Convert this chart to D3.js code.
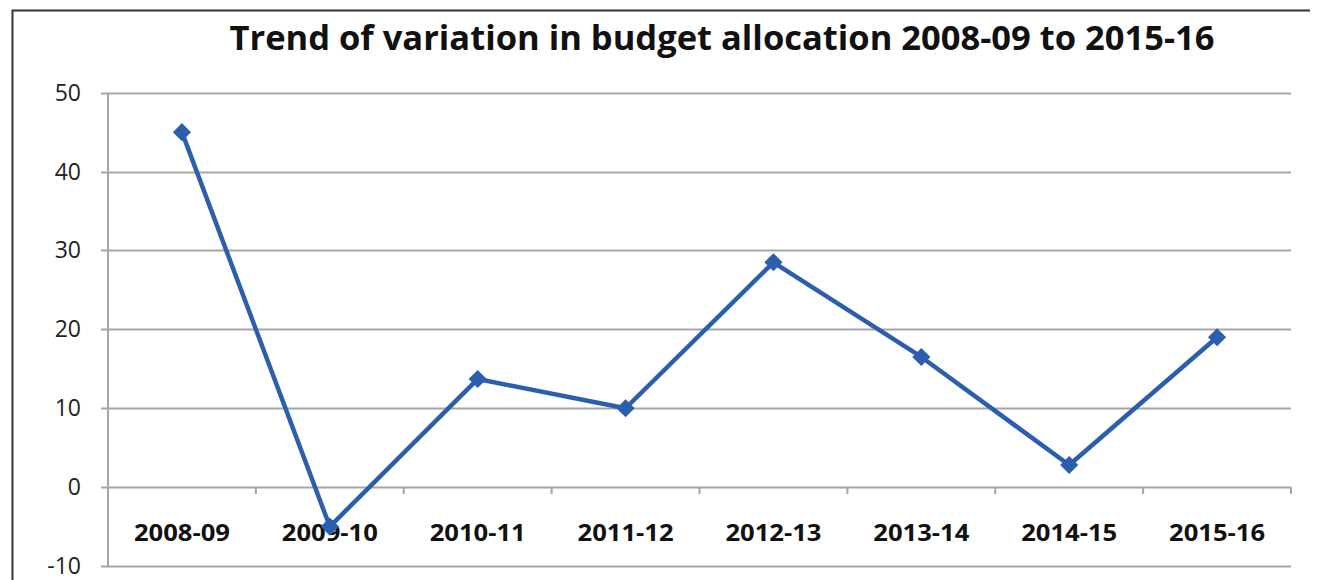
<!DOCTYPE html>
<meta charset="utf-8">
<head>
  <style>
    body { margin:0; background:#fff; }
    text { font-family: "Open Sans", "DejaVu Sans", sans-serif; }
  </style>
  <script src="https://d3js.org/d3.v7.min.js"></script>
</head>
<body>
<svg id="chart" width="1318" height="580"></svg>
<script>
  var years = ["2008-09", "2009-10", "2010-11", "2011-12", "2012-13", "2013-14", "2014-15", "2015-16"]
  var variation = [45, -5, 13.7, 10, 28.5, 16.5, 2.8, 19]
  var yTicks = [50, 40, 30, 20, 10, 0, -10]
  var title = "Trend of variation in budget allocation 2008-09 to 2015-16"

  var svg = d3.select('#chart')

  // frame: top and left edges only
  svg.append('path')
    .attr('d', 'M12.5,580 V10.5 H1310')
    .attr('fill', 'none')
    .attr('stroke', '#333')
    .attr('stroke-width', 2)

  var x = d3.scaleBand().domain(years).range([108, 1291])
  var y = d3.scaleLinear().domain([-10, 50]).range([566, 92.7])

  // gridlines
  svg.append('g').selectAll('line')
    .data(yTicks)
    .enter().append('line')
      .attr('x1', 101).attr('x2', 1291)
      .attr('y1', function (d) { return Math.round(y(d)) + 0.5 })
      .attr('y2', function (d) { return Math.round(y(d)) + 0.5 })
      .attr('stroke', '#a6a6a6')
      .attr('stroke-width', 2)

  // y axis line
  svg.append('line')
    .attr('x1', 108).attr('x2', 108)
    .attr('y1', y(50)).attr('y2', y(-10))
    .attr('stroke', '#a6a6a6').attr('stroke-width', 2)

  // y labels
  svg.append('g').selectAll('text')
    .data(yTicks)
    .enter().append('text')
      .attr('x', 81)
      .attr('y', function (d) { return y(d) + 8 })
      .attr('text-anchor', 'end')
      .attr('font-size', 23)
      .attr('fill', '#222')
      .text(function (d) { return d })

  // category ticks on the zero line
  var bounds = years.map(function (d) { return x(d) }).concat([x.range()[1]])
  svg.append('g').selectAll('line')
    .data(bounds.slice(1))
    .enter().append('line')
      .attr('x1', function (d) { return d }).attr('x2', function (d) { return d })
      .attr('y1', y(0)).attr('y2', y(0) + 7)
      .attr('stroke', '#a6a6a6').attr('stroke-width', 2)

  // category labels
  svg.append('g').selectAll('text')
    .data(years)
    .enter().append('text')
      .attr('x', function (d) { return x(d) + x.bandwidth() / 2 })
      .attr('y', 541)
      .attr('text-anchor', 'middle')
      .attr('font-size', 24)
      .attr('font-weight', 'bold')
      .attr('fill', '#111')
      .attr('textLength', 96)
      .attr('lengthAdjust', 'spacingAndGlyphs')
      .text(function (d) { return d })

  // series line
  var pts = years.map(function (d, i) { return [x(d) + x.bandwidth() / 2, y(variation[i])] })
  svg.append('path')
    .attr('d', d3.line()(pts))
    .attr('fill', 'none')
    .attr('stroke', '#2c5eae')
    .attr('stroke-width', 4.5)
    .attr('stroke-linejoin', 'round')

  svg.append('g').selectAll('path')
    .data(pts)
    .enter().append('path')
      .attr('d', d3.symbol().type(d3.symbolDiamond2).size(210))
      .attr('transform', function (p) { return 'translate(' + p[0] + ',' + p[1] + ')' })
      .attr('fill', '#2c5eae')

  // title
  svg.append('text')
    .attr('x', 722)
    .attr('y', 50)
    .attr('text-anchor', 'middle')
    .attr('font-size', 34)
    .attr('font-weight', 'bold')
    .attr('fill', '#111')
    .attr('textLength', 985)
    .attr('lengthAdjust', 'spacingAndGlyphs')
    .text(title)
</script>
</body>
